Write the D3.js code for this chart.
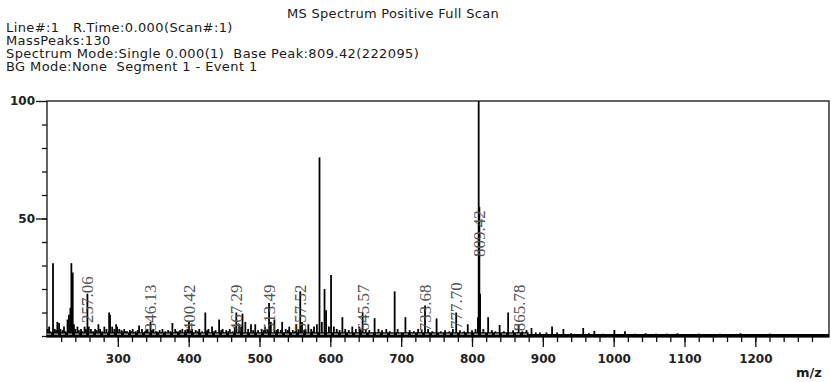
<!DOCTYPE html>
<html>
<head>
<meta charset="utf-8">
<script src="https://cdn.jsdelivr.net/npm/d3@7"></script>
<style>
  body { margin: 0; background: #fff; }
  svg { display: block; }
  .hdr { font-family: "DejaVu Sans", Verdana, sans-serif; font-size: 13px; letter-spacing: 0.4px; fill: #1a1a1a; white-space: pre; }
  .tick text { font-family: "DejaVu Sans", Verdana, sans-serif; font-weight: bold; font-size: 12px; fill: #222; }
  .peakLabel { font-family: "Liberation Serif", "Times New Roman", serif; font-size: 17px; fill: #555; }
</style>
</head>
<body>
<script>
// MS spectrum, positive full scan - relative intensity (%) vs m/z

var svgWidth = 831;
var svgHeight = 382;

// plot box
var margin = { top: 101, right: 2, bottom: 45, left: 47 };
var chartWidth = svgWidth - margin.left - margin.right;
var chartHeight = svgHeight - margin.top - margin.bottom;

// header text lines
var titleText = "MS Spectrum Positive Full Scan";
var infoLines = [
  "Line#:1   R.Time:0.000(Scan#:1)",
  "MassPeaks:130",
  "Spectrum Mode:Single 0.000(1)  Base Peak:809.42(222095)",
  "BG Mode:None  Segment 1 - Event 1"
];

// peaks: m/z and relative intensity (%)
var peakMz = [
  201, 203, 205, 208.5, 211, 213, 214.6, 217, 219, 222, 224, 226, 229, 231, 233, 234.4, 236.3, 238, 240,
  243, 245, 248, 250, 253, 255, 257.06, 259, 262, 265, 268, 270, 272.6, 275, 278, 281, 284, 287.7,
  289, 292, 295, 297.6, 299,
  302, 305, 307, 309, 311, 313, 317, 319, 321, 325, 328, 330, 334, 338, 340, 342, 346.13, 348, 350, 353, 355, 359, 363, 367, 371, 374, 377,
  381, 383, 386, 388, 391, 395, 398, 400.42,
  403, 405, 410, 413, 415, 419, 423.5, 426, 428, 433, 436, 438, 443, 446, 448, 453, 456, 458, 462, 465, 467.29, 471, 474, 476, 480, 484,
  488, 491, 494, 498,
  503, 506, 508, 511, 513.49, 516, 521, 524, 526, 530, 532, 537, 540, 542, 547, 550, 552, 555, 557.52, 560, 563, 565, 569, 573, 575, 577, 581,
  584.7, 588, 591.8, 594, 598, 601,
  605, 609, 613, 617, 621, 626, 631, 636, 641, 643, 645.57, 650, 655, 662.5, 668, 673, 679, 684, 690.8, 695,
  706, 712, 718, 724, 729, 733.68, 738, 744, 750, 756, 762, 768, 773, 777.7, 783, 789, 794, 800, 805,
  808.4, 809.42, 810.4, 811.4, 816, 822.8, 828, 833, 839, 845, 851, 858, 865.78, 871, 877, 884, 890, 896,
  905, 913, 920, 929, 940, 957, 965, 972.7, 985, 1001, 1016, 1030, 1045, 1060, 1075, 1090, 1105,
  1120, 1135, 1150, 1165, 1179, 1195, 1221, 1240, 1260
];
var peakInt = [
  3, 4, 2, 31, 3, 2.5, 6, 5.5, 3, 2.5, 4, 2, 7, 9, 12, 31, 27, 5, 3,
  4, 2.5, 3, 2, 4, 3, 18, 4, 3, 2, 3, 2.5, 5, 3, 2, 4, 3, 10,
  9, 4, 3, 5, 4,
  3, 2.5, 2, 3, 2, 2, 2.5, 2, 3, 2, 2.5, 4.5, 3, 2, 2.5, 3, 6, 2.5, 3, 2, 2, 2.5, 3, 2, 2.5, 2, 5.5,
  3, 2, 2, 2.5, 3, 2.5, 3, 6,
  2.5, 3, 2.5, 2, 3, 2, 10, 2.5, 3, 4, 2, 2.5, 7, 2.5, 3, 2.5, 2, 3, 2, 4, 10, 5, 4, 9.5, 6, 3,
  5, 2.5, 5, 2.5,
  3, 2.5, 4, 3, 14, 6, 7, 2.5, 3, 2.5, 6, 3, 2.5, 4, 2.5, 2, 5, 3, 19, 6, 2.5, 3, 5, 3, 2, 4, 5,
  76, 6, 20, 11, 4, 26,
  4, 3, 2.5, 8, 3, 2.5, 4, 3, 4, 3, 10, 3, 2.5, 7.6, 3, 2.5, 3, 2, 19, 3,
  8, 2.5, 2, 3, 2.5, 13, 3, 2, 7.5, 2, 2.5, 2, 3, 10, 2.5, 2, 5, 2.5, 3,
  8, 100, 55, 18, 3, 8, 2.5, 2, 4.7, 2, 10, 2.5, 5, 2, 2.5, 3.4, 1.5, 1.5,
  1.5, 4, 1.5, 3, 1.2, 3.4, 1.2, 2.2, 1, 2.6, 2, 1, 1.2, 1, 1, 1.2, 0.8,
  1, 0.8, 1, 0.8, 1.2, 0.8, 1, 0.8, 0.6
];

// dense low-level noise at the foot of the spectrum: m/z range and level (%)
var noiseRange = [200, 880];
var noiseLevel = 1.6;

// annotated peaks and the intensity level (%) where each label starts
var labelMz = ["257.06", "346.13", "400.42", "467.29", "513.49", "557.52", "645.57", "733.68", "777.70", "809.42", "865.78"];
var labelAt = [5.5, 2, 2, 2, 2, 2, 2, 2, 3, 33.6, 2];

var xMajor = [300, 400, 500, 600, 700, 800, 900, 1000, 1100, 1200];
var yMajor = [50, 100];

var svg = d3.select("body")
  .append("svg")
  .attr("width", svgWidth)
  .attr("height", svgHeight);

// header
svg.append("text")
  .attr("class", "hdr")
  .attr("x", 287)
  .attr("y", 18)
  .style("letter-spacing", "0.3px")
  .text(titleText);

infoLines.forEach(function(t, i) {
  svg.append("text")
    .attr("class", "hdr")
    .attr("x", 6)
    .attr("y", 32 + i * 13)
    .text(t);
});

var chartGroup = svg.append("g")
  .attr("transform", `translate(${margin.left}, ${margin.top})`);

var xScale = d3.scaleLinear()
  .domain([200, 1304])
  .range([0, chartWidth]);

var yScale = d3.scaleLinear()
  .domain([0, 100])
  .range([chartHeight - 1, 0]);

// minor ticks (no labels)
chartGroup.append("g")
  .attr("transform", `translate(0, ${chartHeight})`)
  .call(d3.axisBottom(xScale).tickValues(d3.range(220, 1300, 20)).tickSize(5).tickFormat(""))
  .call(g => g.select(".domain").remove());

chartGroup.append("g")
  .call(d3.axisLeft(yScale).tickValues(d3.range(0, 100, 10)).tickSize(5).tickFormat(""))
  .call(g => g.select(".domain").remove());

// major ticks
chartGroup.append("g")
  .attr("class", "x-axis")
  .attr("transform", `translate(0, ${chartHeight})`)
  .call(d3.axisBottom(xScale).tickValues(xMajor).tickSize(10).tickPadding(7).tickFormat(d3.format("d")))
  .call(g => g.select(".domain").remove());

chartGroup.append("g")
  .attr("class", "y-axis")
  .call(d3.axisLeft(yScale).tickValues(yMajor).tickSize(11).tickPadding(1))
  .call(g => g.select(".domain").remove());

chartGroup.selectAll(".tick line").attr("stroke", "#111").attr("stroke-width", 1.3);

// frame
chartGroup.append("rect")
  .attr("x", 0)
  .attr("y", 0)
  .attr("width", chartWidth)
  .attr("height", chartHeight)
  .attr("fill", "none")
  .attr("stroke", "#111")
  .attr("stroke-width", 1.3);

// noise band
chartGroup.append("rect")
  .attr("x", xScale(noiseRange[0]))
  .attr("y", yScale(noiseLevel))
  .attr("width", xScale(noiseRange[1]) - xScale(noiseRange[0]))
  .attr("height", yScale(0) - yScale(noiseLevel))
  .attr("fill", "#000");

// peaks
var peaks = peakMz.map((m, i) => ({ mz: m, inten: peakInt[i] }));

chartGroup.selectAll(".peak")
  .data(peaks)
  .enter()
  .append("line")
  .attr("class", "peak")
  .attr("x1", d => xScale(d.mz))
  .attr("x2", d => xScale(d.mz))
  .attr("y1", yScale(0))
  .attr("y2", d => yScale(d.inten))
  .attr("stroke", "#000")
  .attr("stroke-width", 1.8);

// thick baseline
chartGroup.append("line")
  .attr("x1", 0)
  .attr("x2", chartWidth)
  .attr("y1", chartHeight - 1.5)
  .attr("y2", chartHeight - 1.5)
  .attr("stroke", "#000")
  .attr("stroke-width", 3);

// faint dashed zero line through the noise band
chartGroup.append("line")
  .attr("x1", xScale(noiseRange[0]))
  .attr("x2", xScale(noiseRange[1]))
  .attr("y1", yScale(noiseLevel / 2))
  .attr("y2", yScale(noiseLevel / 2))
  .attr("stroke", "#ddd")
  .attr("stroke-width", 1)
  .attr("stroke-dasharray", "4,3");

// peak labels
chartGroup.selectAll(".peakLabel")
  .data(labelMz)
  .enter()
  .append("text")
  .attr("class", "peakLabel")
  .attr("transform", (d, i) => `translate(${xScale(+d)}, ${yScale(labelAt[i])}) rotate(-90)`)
  .attr("dy", "0.35em")
  .text(d => d);

// axis title
svg.append("text")
  .attr("class", "hdr")
  .attr("x", 796)
  .attr("y", 377)
  .attr("font-weight", "bold")
  .style("letter-spacing", "0")
  .text("m/z");
</script>
</body>
</html>
